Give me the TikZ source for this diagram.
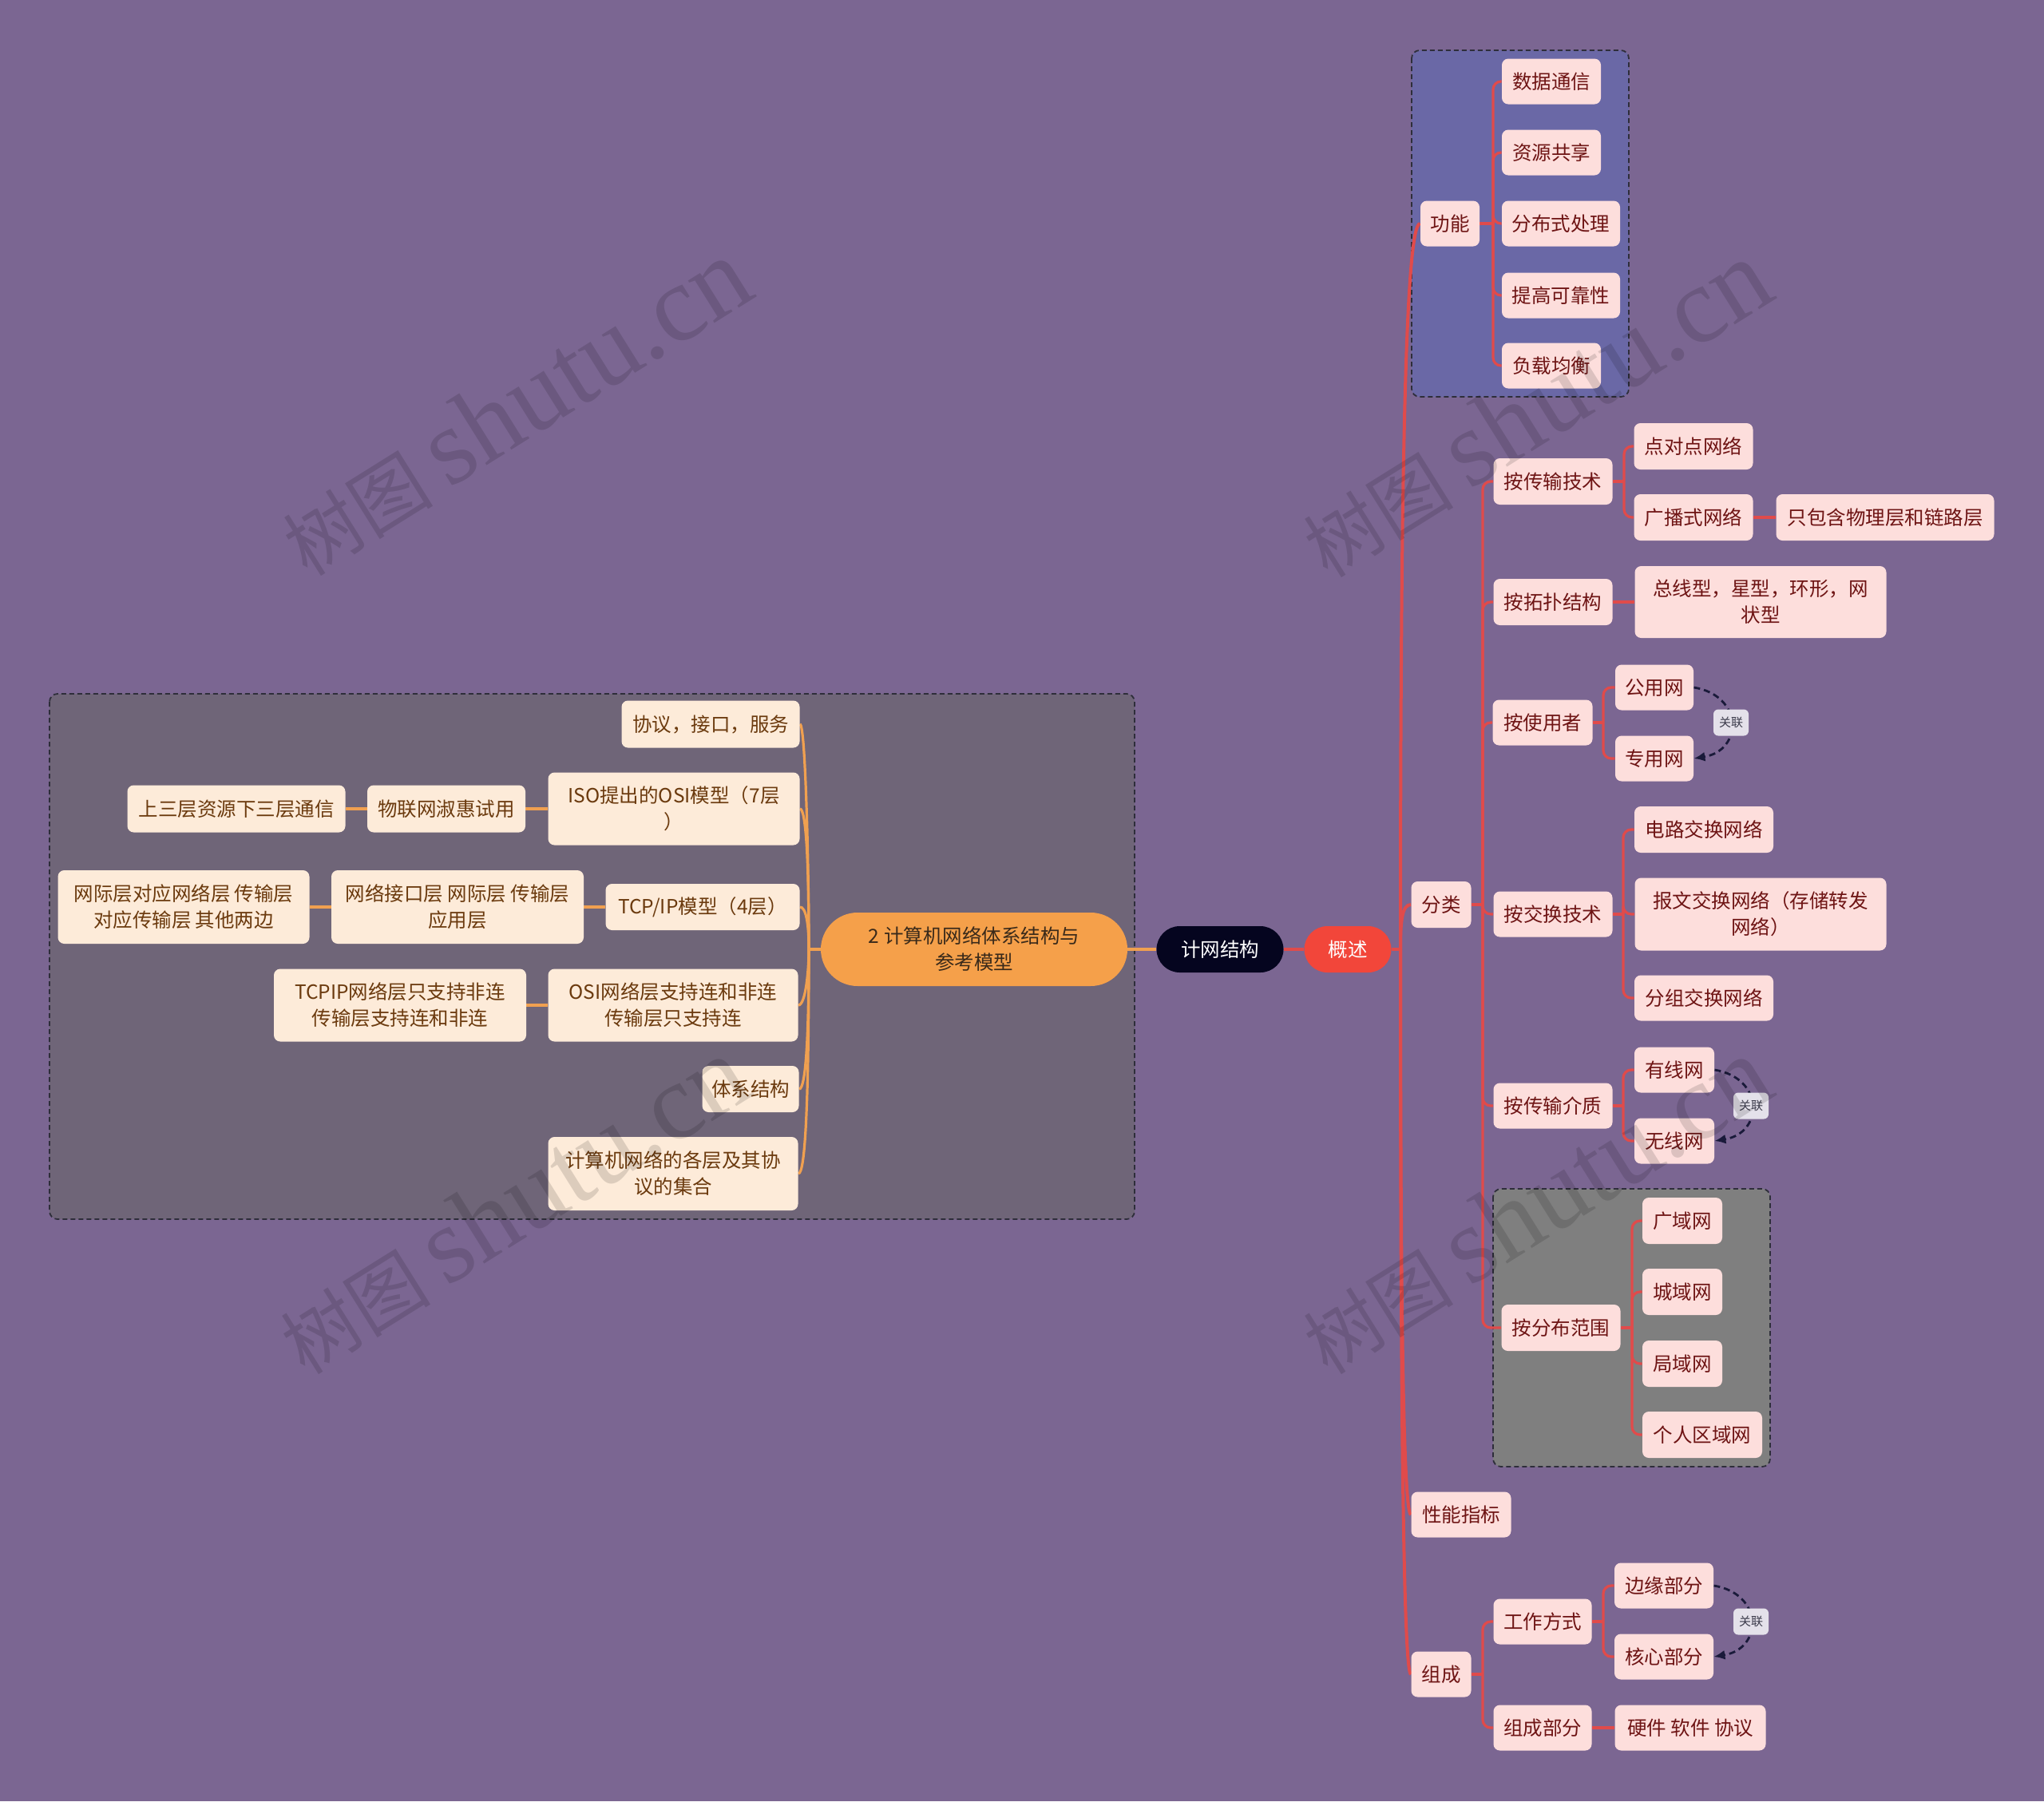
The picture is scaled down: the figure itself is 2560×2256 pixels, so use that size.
\documentclass[tikz,border=0pt]{standalone}
\usepackage{fontspec}
\setmainfont{Noto Sans CJK SC}
\newfontfamily\wmlat{Liberation Serif}
\usetikzlibrary{arrows.meta}
\definecolor{bgc}{HTML}{7B6692}
\definecolor{blueg}{HTML}{6A68A6}
\definecolor{leftg}{HTML}{6F6578}
\definecolor{grayg}{HTML}{7F7F7F}
\definecolor{grpb}{HTML}{2E2E3A}
\definecolor{pinkf}{HTML}{FDDEDC}
\definecolor{redt}{HTML}{6E1414}
\definecolor{creamf}{HTML}{FDEBD9}
\definecolor{brownt}{HTML}{6B3A0E}
\definecolor{redl}{HTML}{E04B4B}
\definecolor{orl}{HTML}{F0A050}
\definecolor{gsred}{HTML}{F2463A}
\definecolor{navy}{HTML}{05051F}
\definecolor{orng}{HTML}{F5A04A}
\definecolor{orngt}{HTML}{3A2A1A}
\definecolor{relc}{HTML}{1A1A3A}
\definecolor{labf}{HTML}{E4E1EA}
\definecolor{labt}{HTML}{3A3A4A}
\newcommand\mfnt{\fontsize{12.25pt}{16.5pt}\selectfont}
\newcommand\lfnt{\fontsize{7.5pt}{9pt}\selectfont}
\pgfdeclarelayer{bglayer}
\pgfsetlayers{bglayer,main}
\tikzset{
 rn/.style={fill=pinkf, text=redt, rounded corners=4pt, inner sep=0pt, align=center, font=\mfnt},
 ln/.style={fill=creamf, text=brownt, rounded corners=4pt, inner sep=0pt, align=center, font=\mfnt},
 grp/.style={draw=grpb, dash pattern=on 3pt off 2pt, line width=0.9pt, rounded corners=5pt},
 rline/.style={draw=redl, line width=1.6pt, rounded corners=5pt},
 trunk/.style={draw=redl, line width=2pt},
 oline/.style={draw=orl, line width=1.6pt},
 rel/.style={draw=relc, line width=1.4pt, dash pattern=on 4pt off 2.5pt, -{Latex[length=7pt,width=6pt]}},
 lab/.style={fill=labf, text=labt, rounded corners=3pt, inner sep=0pt, minimum width=22pt, minimum height=16.5pt, font=\lfnt},
 wm/.style={text=black, text opacity=0.13, rotate=32, inner sep=0pt},
}
\begin{document}
\begin{tikzpicture}[x=0.5pt,y=-0.5pt]
\useasboundingbox (0,0) rectangle (2560,2256);

% ---------- top nodes ----------
\node[fill=gsred, text=white, rounded corners=14.5pt, minimum width=54.5pt, minimum height=29pt, inner sep=0pt, font=\mfnt] (gs) at (1688,1189) {概述};
\node[fill=navy, text=white, rounded corners=14.5pt, minimum width=79.5pt, minimum height=29pt, inner sep=0pt, font=\mfnt] (jw) at (1528,1189) {计网结构};
\node[fill=orng, text=orngt, rounded corners=23pt, minimum width=192pt, minimum height=46pt, inner sep=0pt, align=center, font=\mfnt] (ot) at (1220,1189) {2 计算机网络体系结构与\\参考模型};

% ---------- 功能 ----------
\node[rn, minimum width=37pt, minimum height=28.5pt] (gn) at (1816,280) {功能};
\node[rn, minimum width=62pt, minimum height=28.5pt] (g1) at (1943,102) {数据通信};
\node[rn, minimum width=62pt, minimum height=28.5pt] (g2) at (1943,191) {资源共享};
\node[rn, minimum width=74pt, minimum height=28.5pt] (g3) at (1955,280) {分布式处理};
\node[rn, minimum width=74pt, minimum height=28.5pt] (g4) at (1955,370) {提高可靠性};
\node[rn, minimum width=62pt, minimum height=28.5pt] (g5) at (1943,458) {负载均衡};

% ---------- 分类 ----------
\node[rn, minimum width=37.5pt, minimum height=29pt] (fl) at (1805,1133) {分类};
\node[rn, minimum width=74.5pt, minimum height=29pt] (a1) at (1945,603) {按传输技术};
\node[rn, minimum width=74.5pt, minimum height=29pt] (a11) at (2121,559) {点对点网络};
\node[rn, minimum width=74.5pt, minimum height=29pt] (a12) at (2121,648) {广播式网络};
\node[rn, minimum width=136.5pt, minimum height=29pt] (a121) at (2361,648) {只包含物理层和链路层};
\node[rn, minimum width=74.5pt, minimum height=29pt] (a2) at (1945,754) {按拓扑结构};
\node[rn, minimum width=157.5pt, minimum height=45pt] (a21) at (2205,754) {总线型，星型，环形，网\\状型};
\node[rn, minimum width=62.5pt, minimum height=28.5pt] (a3) at (1932,905) {按使用者};
\node[rn, minimum width=49pt, minimum height=28.5pt] (a31) at (2072,861) {公用网};
\node[rn, minimum width=49pt, minimum height=28.5pt] (a32) at (2072,950) {专用网};
\node[rn, minimum width=74.5pt, minimum height=28.5pt] (a4) at (1945,1145) {按交换技术};
\node[rn, minimum width=87pt, minimum height=29pt] (a41) at (2134,1039) {电路交换网络};
\node[rn, minimum width=157.5pt, minimum height=45.5pt] (a42) at (2205,1145) {报文交换网络（存储转发\\网络）};
\node[rn, minimum width=87pt, minimum height=28.5pt] (a43) at (2134,1250) {分组交换网络};
\node[rn, minimum width=74.5pt, minimum height=28.5pt] (a5) at (1945,1385) {按传输介质};
\node[rn, minimum width=50pt, minimum height=28.5pt] (a51) at (2097,1340) {有线网};
\node[rn, minimum width=50pt, minimum height=28.5pt] (a52) at (2097,1429) {无线网};
\node[rn, minimum width=74.5pt, minimum height=29pt] (a6) at (1955,1663) {按分布范围};
\node[rn, minimum width=50pt, minimum height=29pt] (a61) at (2107,1529) {广域网};
\node[rn, minimum width=50pt, minimum height=29pt] (a62) at (2107,1618) {城域网};
\node[rn, minimum width=50pt, minimum height=29pt] (a63) at (2107,1708) {局域网};
\node[rn, minimum width=75pt, minimum height=29pt] (a64) at (2132,1797) {个人区域网};

% ---------- 性能指标 / 组成 ----------
\node[rn, minimum width=62.5pt, minimum height=28.5pt] (xn) at (1830,1897) {性能指标};
\node[rn, minimum width=37.5pt, minimum height=28.5pt] (zc) at (1805,2097) {组成};
\node[rn, minimum width=61.5pt, minimum height=28.5pt] (z1) at (1932,2031) {工作方式};
\node[rn, minimum width=62pt, minimum height=28.5pt] (z11) at (2084,1986) {边缘部分};
\node[rn, minimum width=62pt, minimum height=28.5pt] (z12) at (2084,2075) {核心部分};
\node[rn, minimum width=61.5pt, minimum height=28.5pt] (z2) at (1932,2164) {组成部分};
\node[rn, minimum width=94.5pt, minimum height=28.5pt] (z21) at (2117,2164) {硬件 软件 协议};

% ---------- left side ----------
\node[ln, minimum width=111.5pt, minimum height=29.5pt] (l1) at (890,907) {协议，接口，服务};
\node[ln, minimum width=157.5pt, minimum height=45.5pt] (l2) at (844,1013) {ISO提出的OSI模型（7层\\）};
\node[ln, minimum width=99pt, minimum height=29.5pt] (l21) at (559,1013) {物联网淑惠试用};
\node[ln, minimum width=136.5pt, minimum height=29.5pt] (l211) at (296,1013) {上三层资源下三层通信};
\node[ln, minimum width=121.5pt, minimum height=29pt] (l3) at (880,1136) {TCP/IP模型（4层）};
\node[ln, minimum width=158pt, minimum height=46pt] (l31) at (573,1136) {网络接口层 网际层 传输层\\应用层};
\node[ln, minimum width=157.5pt, minimum height=46pt] (l311) at (230,1136) {网际层对应网络层 传输层\\对应传输层 其他两边};
\node[ln, minimum width=156.5pt, minimum height=45.5pt] (l4) at (843,1259) {OSI网络层支持连和非连\\传输层只支持连};
\node[ln, minimum width=158pt, minimum height=45.5pt] (l41) at (501,1259) {TCPIP网络层只支持非连\\传输层支持连和非连};
\node[ln, minimum width=60.5pt, minimum height=29pt] (l5) at (940,1364) {体系结构};
\node[ln, minimum width=156.5pt, minimum height=46pt] (l6) at (843,1470) {计算机网络的各层及其协\\议的集合};

% ---------- junction coordinates ----------
\coordinate (T) at (1754,1189);
\coordinate (OL) at (1013,1189);
\coordinate (bgn) at (1870,280);
\coordinate (bfl) at (1857,1133);
\coordinate (b1) at (2034,603);
\coordinate (b3) at (2008,905);
\coordinate (b4) at (2033,1145);
\coordinate (b5) at (2033,1385);
\coordinate (b6) at (2044,1663);
\coordinate (bzc) at (1857,2097);
\coordinate (bz1) at (2008,2031);

\begin{pgfonlayer}{bglayer}
\fill[bgc] (0,0) rectangle (2560,2256);
% groups
\path[grp, fill=blueg] (1768,63) rectangle (2040,497);
\path[grp, fill=leftg] (62,869) rectangle (1421,1527);
\path[grp, fill=grayg] (1870,1489) rectangle (2217,1837);

% main connectors
\draw[oline] (jw.west) -- (ot.east);
\draw[trunk] (jw.east) -- (gs.west);
\draw[trunk] (gs.east) -- (T);
\draw[trunk] (T) .. controls (1754,598) and (1760,280) .. (gn.west);
\draw[trunk] (T) .. controls (1754,1153) and (1756,1133) .. (fl.west);
\draw[trunk] (T) .. controls (1754,1649) and (1758,1897) .. (xn.west);
\draw[trunk] (T) .. controls (1754,1779) and (1758,2097) .. (zc.west);

% 功能
\draw[rline] (gn.east) -- (bgn);
\foreach \c in {g1,g2,g3,g4,g5} \draw[rline] (bgn) |- (\c.west);
% 分类
\draw[rline] (fl.east) -- (bfl);
\foreach \c in {a1,a2,a3,a4,a5,a6} \draw[rline] (bfl) |- (\c.west);
\draw[rline] (a1.east) -- (b1);
\foreach \c in {a11,a12} \draw[rline] (b1) |- (\c.west);
\draw[rline] (a12.east) -- (a121.west);
\draw[rline] (a2.east) -- (a21.west);
\draw[rline] (a3.east) -- (b3);
\foreach \c in {a31,a32} \draw[rline] (b3) |- (\c.west);
\draw[rline] (a4.east) -- (b4);
\foreach \c in {a41,a42,a43} \draw[rline] (b4) |- (\c.west);
\draw[rline] (a5.east) -- (b5);
\foreach \c in {a51,a52} \draw[rline] (b5) |- (\c.west);
\draw[rline] (a6.east) -- (b6);
\foreach \c in {a61,a62,a63,a64} \draw[rline] (b6) |- (\c.west);
% 组成
\draw[rline] (zc.east) -- (bzc);
\foreach \c in {z1,z2} \draw[rline] (bzc) |- (\c.west);
\draw[rline] (z1.east) -- (bz1);
\foreach \c in {z11,z12} \draw[rline] (bz1) |- (\c.west);
\draw[rline] (z2.east) -- (z21.west);

% left side
\draw[oline] (ot.west) -- (OL);
\draw[oline] (OL) .. controls (1013,1091) and (1009,907) .. (l1.east);
\draw[oline] (OL) .. controls (1013,1071) and (1009,1013) .. (l2.east);
\draw[oline] (OL) .. controls (1013,1155) and (1009,1136) .. (l3.east);
\draw[oline] (OL) .. controls (1013,1215) and (1009,1259) .. (l4.east);
\draw[oline] (OL) .. controls (1013,1301) and (1009,1364) .. (l5.east);
\draw[oline] (OL) .. controls (1013,1372) and (1009,1470) .. (l6.east);
\draw[oline] (l2.west) -- (l21.east);
\draw[oline] (l21.west) -- (l211.east);
\draw[oline] (l3.west) -- (l31.east);
\draw[oline] (l31.west) -- (l311.east);
\draw[oline] (l4.west) -- (l41.east);

% relations
\draw[rel] (a31.east) .. controls +(62,10) and +(62,-10) .. (a32.east);
\draw[rel] (a51.east) .. controls +(62,10) and +(62,-10) .. (a52.east);
\draw[rel] (z11.east) .. controls +(62,10) and +(62,-10) .. (z12.east);
\end{pgfonlayer}

\node[lab] (r1) at (2168,905) {关联};
\node[lab] (r2) at (2193,1385) {关联};
\node[lab] (r3) at (2193,2031) {关联};

% watermarks
\foreach \p [count=\i] in {(645,510),(1923,512),(642,1510),(1923,1510)}
  \node[wm] (wm\i) at \p {\fontsize{47pt}{47pt}\selectfont 树图 {\wmlat\fontsize{68pt}{68pt}\selectfont shutu.cn}};
\end{tikzpicture}
\end{document}
